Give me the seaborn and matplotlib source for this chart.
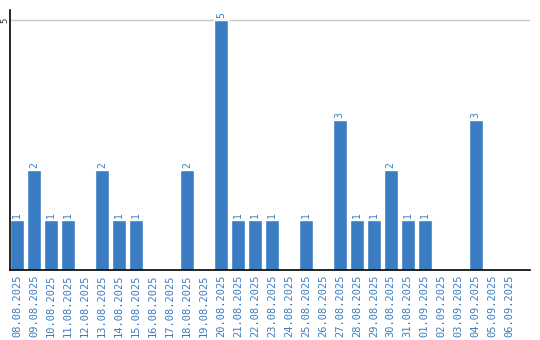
import matplotlib
matplotlib.use("Agg")
import matplotlib.pyplot as plt
import seaborn as sns
import pandas as pd

dates = ["08.08.2025", "09.08.2025", "10.08.2025", "11.08.2025", "12.08.2025",
         "13.08.2025", "14.08.2025", "15.08.2025", "16.08.2025", "17.08.2025",
         "18.08.2025", "19.08.2025", "20.08.2025", "21.08.2025", "22.08.2025",
         "23.08.2025", "24.08.2025", "25.08.2025", "26.08.2025", "27.08.2025",
         "28.08.2025", "29.08.2025", "30.08.2025", "31.08.2025", "01.09.2025",
         "02.09.2025", "03.09.2025", "04.09.2025", "05.09.2025", "06.09.2025"]
counts = [1, 2, 1, 1, 0, 2, 1, 1, 0, 0, 2, 0, 5, 1, 1, 1, 0, 1, 0, 3,
          1, 1, 2, 1, 1, 0, 0, 3, 0, 0]

sns.set_style("white")
plt.rcParams['font.family'] = ['DejaVu Sans Mono', 'DejaVu Sans']

bar_color = "#3a7dc2"
text_color = "#3a7dc2"

df = pd.DataFrame({"date": dates, "count": counts})
fig = plt.figure(figsize=(5.4, 3.4), dpi=100)
ax = fig.add_axes([10/540, 70/340, 520/540, 260/340])
sns.barplot(data=df, x="date", y="count", color=bar_color, width=0.82,
            saturation=1, ax=ax, order=dates)

ax.set_ylim(0, 5.2)
ax.set_xlim(-0.42, 30.2)
ax.set_yticks([5])
ax.set_yticklabels([""])
ax.tick_params(axis="y", length=0, pad=0)
ax.text(-5 / 520, 5, "5", transform=ax.get_yaxis_transform(), rotation=90,
        ha="center", va="center", fontsize=6.5, color="#333333")
ax.axhline(5, color="#c8c8c8", lw=1, zorder=0)
ax.tick_params(axis="x", length=0, pad=3)
ax.set_xticks(range(len(dates)))
ax.set_xticklabels(dates, rotation=90, fontsize=7.5, color=text_color)
ax.set_xlabel("")
ax.set_ylabel("")
for s in ["top", "right"]:
    ax.spines[s].set_visible(False)
ax.spines["left"].set_color("black")
ax.spines["bottom"].set_color("black")
ax.spines["left"].set_linewidth(1.2)
ax.spines["bottom"].set_linewidth(1.2)

for i, v in enumerate(counts):
    if v > 0:
        ax.text(i, v + 0.04, str(v), rotation=90, ha="center", va="bottom",
                fontsize=7, color=text_color)

fig.savefig("out.png", dpi=100)
